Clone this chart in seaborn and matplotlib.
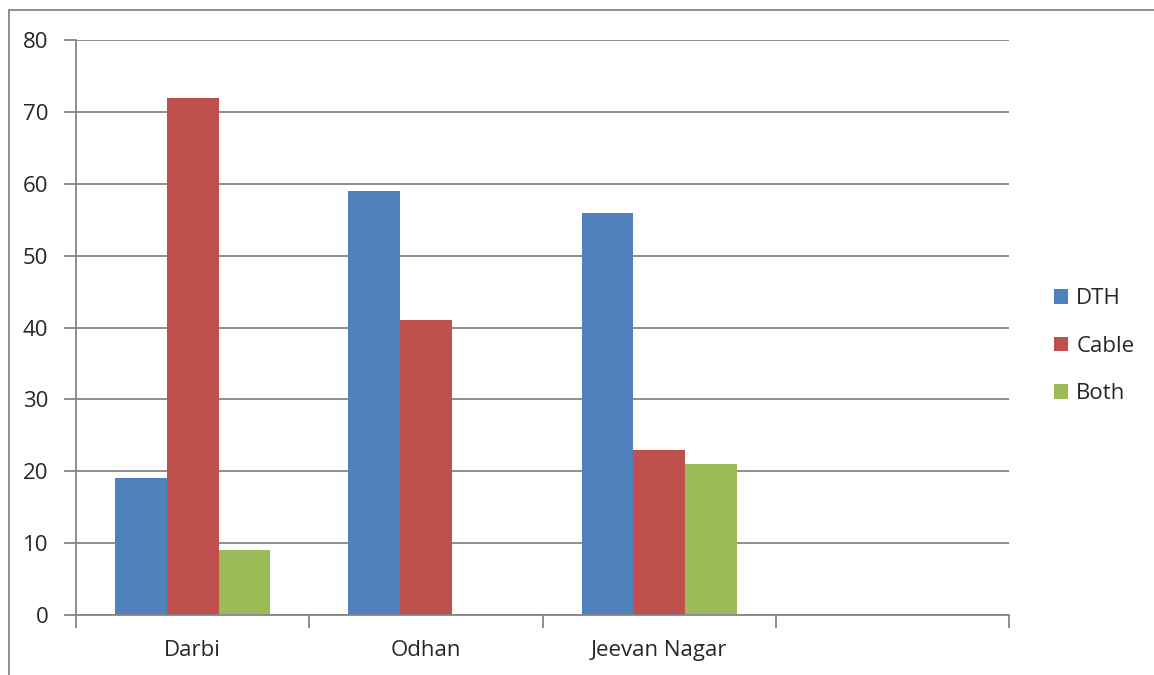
import pandas as pd
import matplotlib.pyplot as plt
import seaborn as sns
from matplotlib.lines import Line2D

# Data
places = ['Darbi', 'Odhan', 'Jeevan Nagar', '']
series = ['DTH', 'Cable', 'Both']
dth = [19, 59, 56]
cable = [72, 41, 23]
both = [9, 0, 21]

rows = []
for name, vals in zip(series, [dth, cable, both]):
    for p, v in zip(places[:3], vals):
        rows.append({'Place': p, 'Connection': name, 'Count': v})
df = pd.DataFrame(rows)

# Plot
sns.set_style('white')
plt.rcParams['font.family'] = ['Open Sans', 'DejaVu Sans']
grid_c = '#868686'
colors = ['#4F81BD', '#C0504D', '#9BBB59']
fs = 16

fig = plt.figure(figsize=(11.54, 6.75), dpi=100)
ax = fig.add_axes([0.0659, 0.0889, 0.8085, 0.8518])

sns.barplot(data=df, x='Place', y='Count', hue='Connection', order=places,
            hue_order=series, palette=colors, width=0.665, gap=0,
            saturation=1, linewidth=0, ax=ax)

ax.set_ylim(0, 80)
ax.set_xlim(-0.5, 3.5)
ax.set_yticks(range(0, 81, 10))
ax.yaxis.grid(True, color=grid_c, linewidth=1.3)
ax.set_axisbelow(True)
ax.set_xlabel(None)
ax.set_ylabel(None)

ax.set_xticks(range(4))
ax.set_xticklabels(places)
ax.set_xticks([i - 0.5 for i in range(5)], minor=True)
ax.tick_params(axis='x', which='major', length=0, pad=18, labelsize=fs)
ax.tick_params(axis='x', which='minor', length=9, width=1.3, color=grid_c,
               direction='out', bottom=True)
ax.tick_params(axis='y', length=9, width=1.3, color=grid_c, direction='out',
               left=True, pad=11, labelsize=fs)

for s in ['top', 'right']:
    ax.spines[s].set_visible(False)
for s in ['left', 'bottom']:
    ax.spines[s].set_color(grid_c)
    ax.spines[s].set_linewidth(1.3)

ax.legend(loc='center left', bbox_to_anchor=(0.896, 0.487),
          bbox_transform=fig.transFigure, frameon=False, fontsize=fs,
          handlelength=0.65, handleheight=0.65, handletextpad=0.35,
          labelspacing=1.2)

# outer chart frame (left and top edges visible)
fig.add_artist(Line2D([0.0075, 0.0075], [0.0, 0.985], color=grid_c, lw=1.3,
                      transform=fig.transFigure))
fig.add_artist(Line2D([0.0075, 1.0], [0.985, 0.985], color=grid_c, lw=1.3,
                      transform=fig.transFigure))

fig.savefig('out.png', dpi=100)
